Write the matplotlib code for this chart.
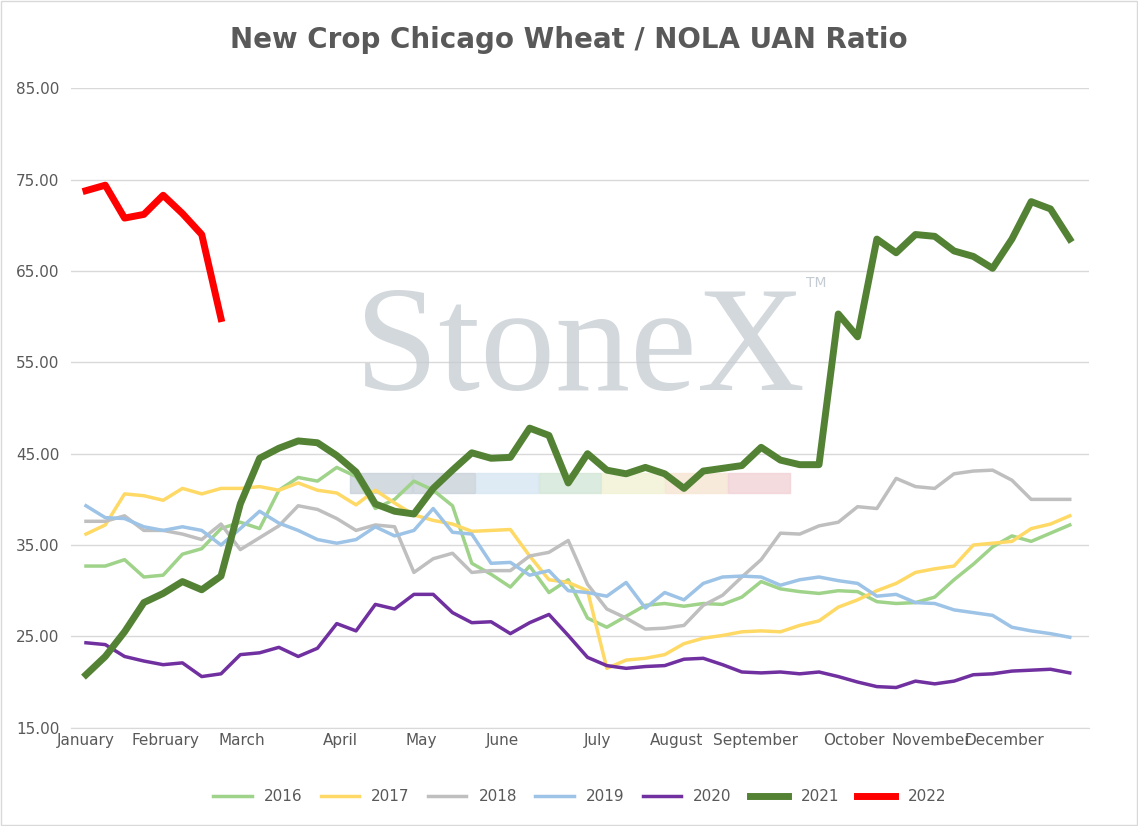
import matplotlib
matplotlib.use("Agg")
import matplotlib.pyplot as plt

months = ["January","February","March","April","May","June","July","August","September","October","November","December"]
month_pos = [0, 4.1, 8.1, 13.2, 17.4, 21.6, 26.5, 30.6, 34.7, 39.8, 43.8, 47.6]

s2016 = [32.7,32.7,33.4,31.5,31.7,34.0,34.6,36.8,37.5,36.8,41.0,42.4,42.0,43.5,42.5,39.0,40.0,42.0,41.0,39.3,33.0,31.8,30.4,32.7,29.8,31.2,27.0,26.0,27.2,28.4,28.6,28.3,28.6,28.5,29.3,31.0,30.2,29.9,29.7,30.0,29.9,28.8,28.6,28.7,29.3,31.2,32.9,34.8,36.0,35.4,36.3,37.2]
s2017 = [36.2,37.2,40.6,40.4,39.9,41.2,40.6,41.2,41.2,41.4,41.0,41.8,41.0,40.7,39.4,41.0,39.6,38.3,37.7,37.3,36.5,36.6,36.7,33.8,31.2,30.9,30.0,21.5,22.4,22.6,23.0,24.2,24.8,25.1,25.5,25.6,25.5,26.2,26.7,28.2,29.0,30.0,30.8,32.0,32.4,32.7,35.0,35.2,35.4,36.8,37.3,38.2]
s2018 = [37.6,37.6,38.2,36.6,36.6,36.2,35.6,37.3,34.5,35.8,37.1,39.3,38.9,37.9,36.6,37.2,37.0,32.0,33.5,34.1,32.0,32.2,32.2,33.8,34.2,35.5,30.7,28.0,27.0,25.8,25.9,26.2,28.4,29.5,31.5,33.4,36.3,36.2,37.1,37.5,39.2,39.0,42.3,41.4,41.2,42.8,43.1,43.2,42.1,40.0,40.0,40.0]
s2019 = [39.3,38.0,37.9,37.0,36.6,37.0,36.6,35.0,36.8,38.7,37.4,36.6,35.6,35.2,35.6,37.0,36.0,36.6,39.0,36.4,36.2,33.0,33.1,31.7,32.2,30.0,29.8,29.4,30.9,28.1,29.8,29.0,30.8,31.5,31.6,31.5,30.6,31.2,31.5,31.1,30.8,29.4,29.6,28.7,28.6,27.9,27.6,27.3,26.0,25.6,25.3,24.9]
s2020 = [24.3,24.1,22.8,22.3,21.9,22.1,20.6,20.9,23.0,23.2,23.8,22.8,23.7,26.4,25.6,28.5,28.0,29.6,29.6,27.6,26.5,26.6,25.3,26.5,27.4,25.1,22.7,21.8,21.5,21.7,21.8,22.5,22.6,21.9,21.1,21.0,21.1,20.9,21.1,20.6,20.0,19.5,19.4,20.1,19.8,20.1,20.8,20.9,21.2,21.3,21.4,21.0]
s2021 = [20.8,22.8,25.5,28.7,29.7,31.0,30.1,31.6,39.5,44.5,45.6,46.4,46.2,44.8,43.0,39.5,38.7,38.4,41.2,43.2,45.1,44.5,44.6,47.8,47.0,41.8,45.0,43.2,42.8,43.5,42.8,41.2,43.1,43.4,43.7,45.7,44.3,43.8,43.8,60.3,57.8,68.5,67.0,69.0,68.8,67.2,66.6,65.3,68.5,72.6,71.8,68.5]
s2022 = [73.8,74.4,70.8,71.2,73.3,71.3,69.0,59.8]

series = [("2016", s2016, "#9fd38a", 2.5), ("2017", s2017, "#ffd966", 2.5),
          ("2018", s2018, "#bfbfbf", 2.5), ("2019", s2019, "#9dc3e6", 2.5),
          ("2020", s2020, "#7030a0", 2.5), ("2021", s2021, "#548235", 5),
          ("2022", s2022, "#ff0000", 5)]

fig = plt.figure(figsize=(11.38, 8.26), dpi=100)
fig.patches.append(plt.Rectangle((0.001,0.001),0.998,0.998,transform=fig.transFigure,
                                 fill=False,edgecolor="#d9d9d9",lw=1))
ax = fig.add_axes([0.062, 0.119, 0.895, 0.774])
for name, vals, c, lw in series:
    ax.plot(range(len(vals)), vals, color=c, lw=lw, label=name, solid_joinstyle="round", zorder=3)
ax.set_ylim(15, 85)
ax.set_yticks(range(15, 86, 10))
ax.set_yticklabels([f"{v:.2f}" for v in range(15, 86, 10)], color="#595959", fontsize=11)
ax.set_xlim(-0.8, 52.0)
ax.set_xticks(month_pos)
ax.set_xticklabels(months, color="#595959", fontsize=11)
ax.tick_params(length=0, axis="y", pad=8)
ax.tick_params(length=0, axis="x")
ax.grid(axis="y", color="#d9d9d9", lw=1)
ax.set_axisbelow(True)
for s in ["top","right","left"]:
    ax.spines[s].set_visible(False)
ax.spines["bottom"].set_color("#d9d9d9")
ax.text(0.5, 0.585, "StoneX", transform=ax.transAxes, ha="center", va="center",
        fontsize=108, family="Liberation Serif", color="#c5cbd2", alpha=0.75, zorder=1)
ax.text(0.722, 0.69, "TM", transform=ax.transAxes, fontsize=10, color="#c5cbd2", zorder=1)
strip = ["#c9d1d9", "#c9d1d9", "#d7e6f2", "#d3e6d8", "#f2f2d5", "#f6e5d3", "#f2d2d5"]
for i, c in enumerate(strip):
    ax.add_patch(plt.Rectangle((350/1138 + i*63/1138, 1-493/826), 62/1138, 20/826,
                 transform=fig.transFigure, color=c, alpha=0.8, zorder=1))
fig.suptitle("New Crop Chicago Wheat / NOLA UAN Ratio", y=0.968, fontsize=20,
             fontweight="bold", color="#595959")
ax.legend(loc="upper center", bbox_to_anchor=(0.5, -0.075), ncol=7, frameon=False,
          fontsize=11, handlelength=2.5, columnspacing=1.2, labelcolor="#595959")
fig.savefig("out.png", dpi=100)
